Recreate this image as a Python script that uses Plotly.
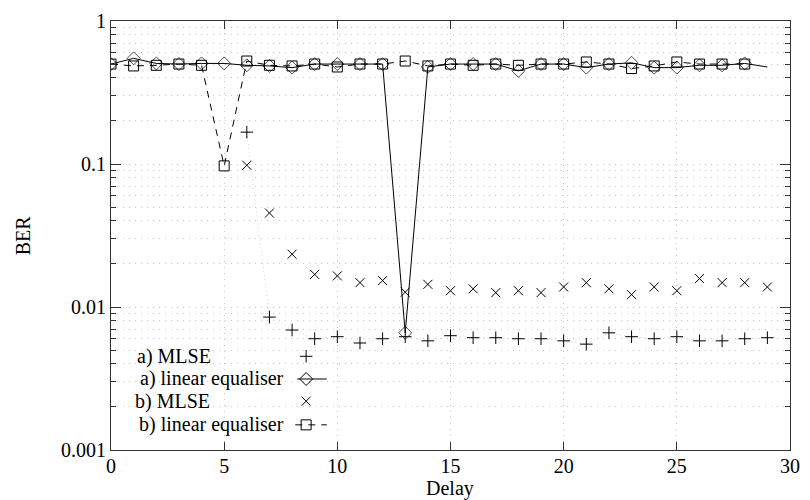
import plotly.graph_objects as go

# ---------------- data ----------------
delay_all = list(range(0, 30))
delay_lin_b = list(range(0, 29))
delay_mlse = list(range(6, 30))

mlse_a = [0.167, 0.0085, 0.0069, 0.0060, 0.0062, 0.0056, 0.0060, 0.0062, 0.0058, 0.0063,
          0.0061, 0.0061, 0.0060, 0.0060, 0.0058, 0.0055, 0.0066, 0.0062, 0.0060, 0.0062,
          0.0058, 0.0058, 0.0060, 0.0061]
mlse_b = [0.098, 0.0454, 0.0234, 0.0169, 0.0165, 0.0148, 0.0153, 0.0127, 0.0144, 0.0130,
          0.0134, 0.0126, 0.0130, 0.0126, 0.0138, 0.0148, 0.0134, 0.0122, 0.0138, 0.0130,
          0.0158, 0.0148, 0.0148, 0.0138]
lin_a = [0.50, 0.548, 0.505, 0.50, 0.505, 0.505, 0.49, 0.485, 0.472, 0.50,
         0.50, 0.50, 0.50, 0.0066, 0.477, 0.50, 0.50, 0.50, 0.448, 0.50,
         0.50, 0.472, 0.50, 0.51, 0.472, 0.472, 0.49, 0.49, 0.505, 0.477]
lin_b = [0.50, 0.485, 0.49, 0.50, 0.49, 0.097, 0.525, 0.49, 0.485, 0.50,
         0.477, 0.50, 0.50, 0.525, 0.485, 0.50, 0.49, 0.50, 0.49, 0.50,
         0.50, 0.517, 0.50, 0.465, 0.485, 0.517, 0.50, 0.50, 0.50]

legend_labels = ["a) MLSE", "a) linear equaliser", "b) MLSE", "b) linear equaliser"]
x_ticks = [0, 5, 10, 15, 20, 25, 30]
y_ticks = [0.001, 0.01, 0.1, 1]
y_ticktext = ["0.001", "0.01", "0.1", "1"]
y_minor = [m * 10 ** e for e in (-3, -2, -1) for m in range(2, 10)]

# ---------------- layout constants ----------------
W, H = 810, 500
ML, MR, MT, MB = 111, 10, 15, 50
PW, PH = W - ML - MR, H - MT - MB
FONT = "Liberation Serif"
BLK = "#000000"

fig = go.Figure()

# faint dotted connection of a) MLSE
fig.add_trace(go.Scatter(x=delay_mlse, y=mlse_a, mode="lines",
                         line=dict(color="#d4d4d4", width=1, dash="1px,3px"),
                         showlegend=False, hoverinfo="skip"))
# a) MLSE markers
fig.add_trace(go.Scatter(x=delay_mlse, y=mlse_a, mode="markers",
                         marker=dict(symbol="cross-thin", size=9, line=dict(color=BLK, width=1)),
                         showlegend=False))
# b) MLSE markers
fig.add_trace(go.Scatter(x=delay_mlse, y=mlse_b, mode="markers",
                         marker=dict(symbol="x-thin", size=9, line=dict(color=BLK, width=1)),
                         showlegend=False))
# b) linear equaliser (dashed, squares)
fig.add_trace(go.Scatter(x=delay_lin_b, y=lin_b, mode="lines+markers",
                         line=dict(color=BLK, width=1, dash="7px,6px"),
                         marker=dict(symbol="square-open", size=10, color=BLK, line=dict(color=BLK, width=1)),
                         showlegend=False))
# a) linear equaliser (solid, diamonds) - last point without marker
sizes_a = [10] * (len(delay_all) - 1) + [0]
fig.add_trace(go.Scatter(x=delay_all, y=lin_a, mode="lines+markers",
                         line=dict(color=BLK, width=1),
                         marker=dict(symbol="diamond-open", size=sizes_a, color=BLK, line=dict(color=BLK, width=1)),
                         showlegend=False))

# ---------------- custom legend (pixel overlay axis) ----------------
rows_y = [340, 363, 385.5, 409.5]
text_x = [24, 27, 22, 26]
for lbl, ty, tx in zip(legend_labels, rows_y, text_x):
    fig.add_annotation(x=tx, y=ty, xref="x2", yref="y2", text=lbl, showarrow=False,
                       xanchor="left", yanchor="middle", font=dict(family=FONT, size=20, color=BLK))
sx = 198
# a) MLSE sample
fig.add_trace(go.Scatter(x=[sx - 5, sx + 1], y=[rows_y[0], rows_y[0]], mode="lines", xaxis="x2", yaxis="y2",
                         line=dict(color="#d4d4d4", width=1, dash="1px,3px"), showlegend=False, hoverinfo="skip"))
fig.add_trace(go.Scatter(x=[sx], y=[rows_y[0]], mode="markers", xaxis="x2", yaxis="y2",
                         marker=dict(symbol="cross-thin", size=9, line=dict(color=BLK, width=1)),
                         showlegend=False, hoverinfo="skip"))
# a) linear sample
fig.add_trace(go.Scatter(x=[sx - 9, sx + 21], y=[rows_y[1]] * 2, mode="lines", xaxis="x2", yaxis="y2",
                         line=dict(color=BLK, width=1), showlegend=False, hoverinfo="skip"))
fig.add_trace(go.Scatter(x=[sx], y=[rows_y[1]], mode="markers", xaxis="x2", yaxis="y2",
                         marker=dict(symbol="diamond-open", size=10, line=dict(color=BLK, width=1), color=BLK),
                         showlegend=False, hoverinfo="skip"))
# b) MLSE sample
fig.add_trace(go.Scatter(x=[sx], y=[rows_y[2]], mode="markers", xaxis="x2", yaxis="y2",
                         marker=dict(symbol="x-thin", size=9, line=dict(color=BLK, width=1)),
                         showlegend=False, hoverinfo="skip"))
# b) linear sample
fig.add_trace(go.Scatter(x=[sx - 11, sx + 21], y=[rows_y[3]] * 2, mode="lines", xaxis="x2", yaxis="y2",
                         line=dict(color=BLK, width=1, dash="7px,6px"), showlegend=False, hoverinfo="skip"))
fig.add_trace(go.Scatter(x=[sx], y=[rows_y[3]], mode="markers", xaxis="x2", yaxis="y2",
                         marker=dict(symbol="square-open", size=10, line=dict(color=BLK, width=1), color=BLK),
                         showlegend=False, hoverinfo="skip"))

# axis titles (paper coordinates)
fig.add_annotation(x=(455 - ML) / PW, y=1 - (489.5 - MT) / PH, xref="paper", yref="paper", text="Delay",
                   showarrow=False, xanchor="center", yanchor="middle",
                   font=dict(family=FONT, size=20, color=BLK))
fig.add_annotation(x=(22 - ML) / PW, y=1 - (232 - MT) / PH, xref="paper", yref="paper", text="BER",
                   showarrow=False, textangle=-90, xanchor="center", yanchor="middle",
                   font=dict(family=FONT, size=20, color=BLK))

GRID = "#c8c8c8"
GDASH = "1px,5px"
fig.update_layout(
    width=W, height=H,
    margin=dict(l=ML, r=MR, t=MT, b=MB),
    paper_bgcolor="white", plot_bgcolor="white",
    font=dict(family=FONT, size=20, color=BLK),
    showlegend=False,
    xaxis=dict(range=[0, 30], tickvals=x_ticks, ticks="inside", ticklen=8, tickcolor="#333",
               showline=True, linecolor="#333", linewidth=1, mirror="ticks",
               showgrid=True, gridcolor=GRID, griddash=GDASH, gridwidth=1, ticklabelstandoff=-2,
               zeroline=False, tickfont=dict(family=FONT, size=20, color=BLK)),
    yaxis=dict(type="log", range=[-3, 0], tickvals=y_ticks, ticktext=y_ticktext,
               ticks="inside", ticklen=10, tickcolor="#333",
               showline=True, linecolor="#333", linewidth=1, mirror="ticks",
               showgrid=True, gridcolor=GRID, griddash=GDASH, gridwidth=1,
               zeroline=False, tickfont=dict(family=FONT, size=20, color=BLK),
               minor=dict(tickvals=y_minor, ticks="inside", ticklen=5, tickcolor="#333",
                          showgrid=True, gridcolor=GRID, griddash=GDASH, gridwidth=1)),
    xaxis2=dict(overlaying="x", range=[0, PW], visible=False, fixedrange=True),
    yaxis2=dict(overlaying="y", range=[PH, 0], visible=False, fixedrange=True),
)

fig.write_html("out.html")
